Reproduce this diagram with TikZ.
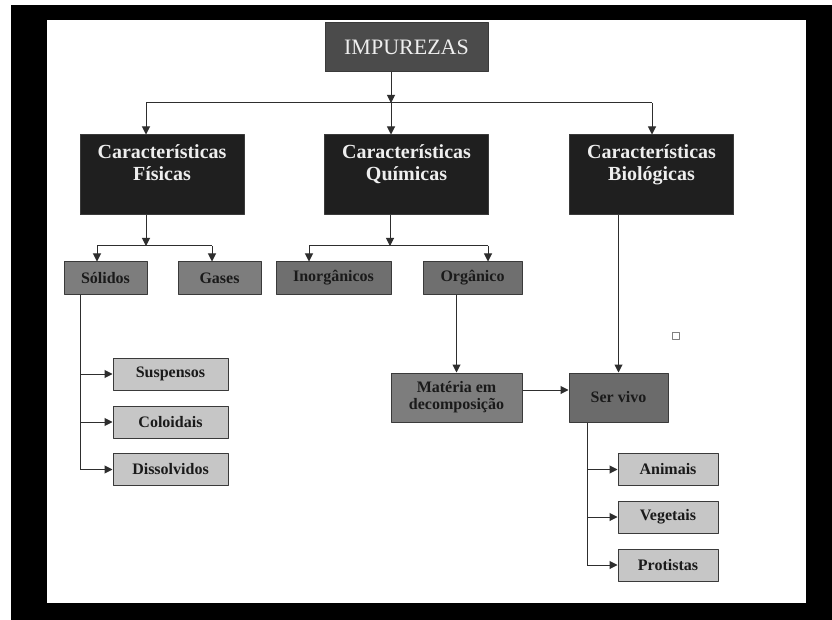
\documentclass[tikz,border=0pt]{standalone}
\usepackage{fontspec}
\setmainfont{Liberation Serif}
\usepackage{tikz}
\usetikzlibrary{arrows.meta,positioning,calc}
\definecolor{boxline}{HTML}{3A3A3A}
\definecolor{linecol}{HTML}{2E2E2E}
\definecolor{topgray}{HTML}{4B4B4B}
\definecolor{bigdark}{HTML}{1F1F1F}
\definecolor{midgray}{HTML}{7D7D7D}
\definecolor{inogray}{HTML}{6F6F6F}
\definecolor{sergray}{HTML}{6B6B6B}
\definecolor{leafgray}{HTML}{C6C6C6}
\definecolor{darktext}{HTML}{1A1A1A}
\definecolor{lighttext}{HTML}{EEEEEE}
\newcommand{\toptext}[1]{\parbox[c][60pt][t]{160pt}{\centering #1}}

\begin{document}
\begin{tikzpicture}[x=1pt,y=-1pt,>={Triangle[length=8pt,width=8pt]},line join=bevel,
  box/.style={draw=boxline,line width=1pt,inner sep=0pt,align=center},
  topbox/.style={box,fill=topgray,text=lighttext,font=\fontsize{22}{24}\selectfont,minimum width=163pt,minimum height=49pt},
  bigbox/.style={box,fill=bigdark,text=lighttext,font=\fontsize{20}{22}\selectfont\bfseries,minimum width=164pt,minimum height=80pt},
  midbox/.style={box,fill=midgray,text=darktext,font=\fontsize{16}{17}\selectfont\bfseries,minimum height=32pt},
  leafbox/.style={box,fill=leafgray,text=darktext,font=\fontsize{16}{17}\selectfont\bfseries,minimum height=32pt},
  link/.style={draw=linecol,line width=1pt}]
\fill[white] (0,0) rectangle (832,620);
\fill[black] (11,5) rectangle (832,620);
\fill[white] (47,20) rectangle (806,603);
\useasboundingbox (0,0) rectangle (832,620);

\node[topbox] (imp) at (406.5,47.5) {IMPUREZAS};
\node[bigbox] (fis) at (162,175) {\toptext{Características\\Físicas}};
\node[bigbox] (qui) at (406.5,175) {\toptext{Características\\Químicas}};
\node[bigbox] (bio) at (651.5,175) {\toptext{Características\\Biológicas}};

\node[midbox,minimum width=83pt] (sol) at (105.5,278) {Sólidos};
\node[midbox,minimum width=83pt] (gas) at (219.5,278) {Gases};
\node[midbox,fill=inogray,minimum width=115pt] (ino) at (333.5,278) {Inorgânicos};
\node[midbox,fill=inogray,minimum width=99pt] (org) at (472.5,278) {Orgânico};
\node[midbox,minimum width=131pt,minimum height=49pt] (mat) at (456.5,397.5) {Matéria em\\decomposição};
\node[midbox,fill=sergray,minimum width=99pt,minimum height=49pt] (ser) at (618.5,397.5) {Ser vivo};

\node[leafbox,minimum width=115pt] (sus) at (170.5,374) {Suspensos};
\node[leafbox,minimum width=115pt] (col) at (170.5,422) {Coloidais};
\node[leafbox,minimum width=115pt] (dis) at (170.5,469.5) {Dissolvidos};
\node[leafbox,minimum width=100pt] (ani) at (668,469.5) {Animais};
\node[leafbox,minimum width=100pt] (veg) at (668,517) {Vegetais};
\node[leafbox,minimum width=100pt] (pro) at (668,565) {Protistas};

\node[draw=gray,line width=0.8pt,minimum size=7pt,inner sep=0pt] (dot) at (676,336) {};

\coordinate (j0) at (391,103);
\coordinate (jl) at (146,103);
\coordinate (jr) at (652,103);
\draw[link,->] (imp.south -| j0) -- (j0);
\draw[link] (jl) -- (jr);
\draw[link,->] (jl) -- (jl |- fis.north);
\draw[link,->] (j0) -- (j0 |- qui.north);
\draw[link,->] (jr) -- (jr |- bio.north);

\coordinate (j1) at (146,246);
\coordinate (j1l) at (97,246);
\coordinate (j1r) at (212,246);
\draw[link,->] (fis.south -| j1) -- (j1);
\draw[link] (j1l) -- (j1r);
\draw[link,->] (j1l) -- (j1l |- sol.north);
\draw[link,->] (j1r) -- (j1r |- gas.north);

\coordinate (j2) at (390,246);
\coordinate (j2l) at (309,246);
\coordinate (j2r) at (488,246);
\draw[link,->] (qui.south -| j2) -- (j2);
\draw[link] (j2l) -- (j2r);
\draw[link,->] (j2l) -- (j2l |- ino.north);
\draw[link,->] (j2r) -- (j2r |- org.north);

\draw[link,->] (org.south -| mat.north) -- (mat.north);
\draw[link,->] ([yshift=7.5pt]mat.east) -- ([yshift=7.5pt]ser.west);
\draw[link,->] (bio.south -| ser.north) -- (ser.north);

\coordinate (ss) at (80,469.5);
\draw[link] (sol.south -| ss) -- (ss |- dis.west);
\foreach \n in {sus,col,dis}
  \draw[link,->] (ss |- \n.west) -- (\n.west);

\coordinate (vs) at (587,565);
\draw[link] (ser.south -| vs) -- (vs |- pro.west);
\foreach \n in {ani,veg,pro}
  \draw[link,->] (vs |- \n.west) -- (\n.west);
\end{tikzpicture}
\end{document}
